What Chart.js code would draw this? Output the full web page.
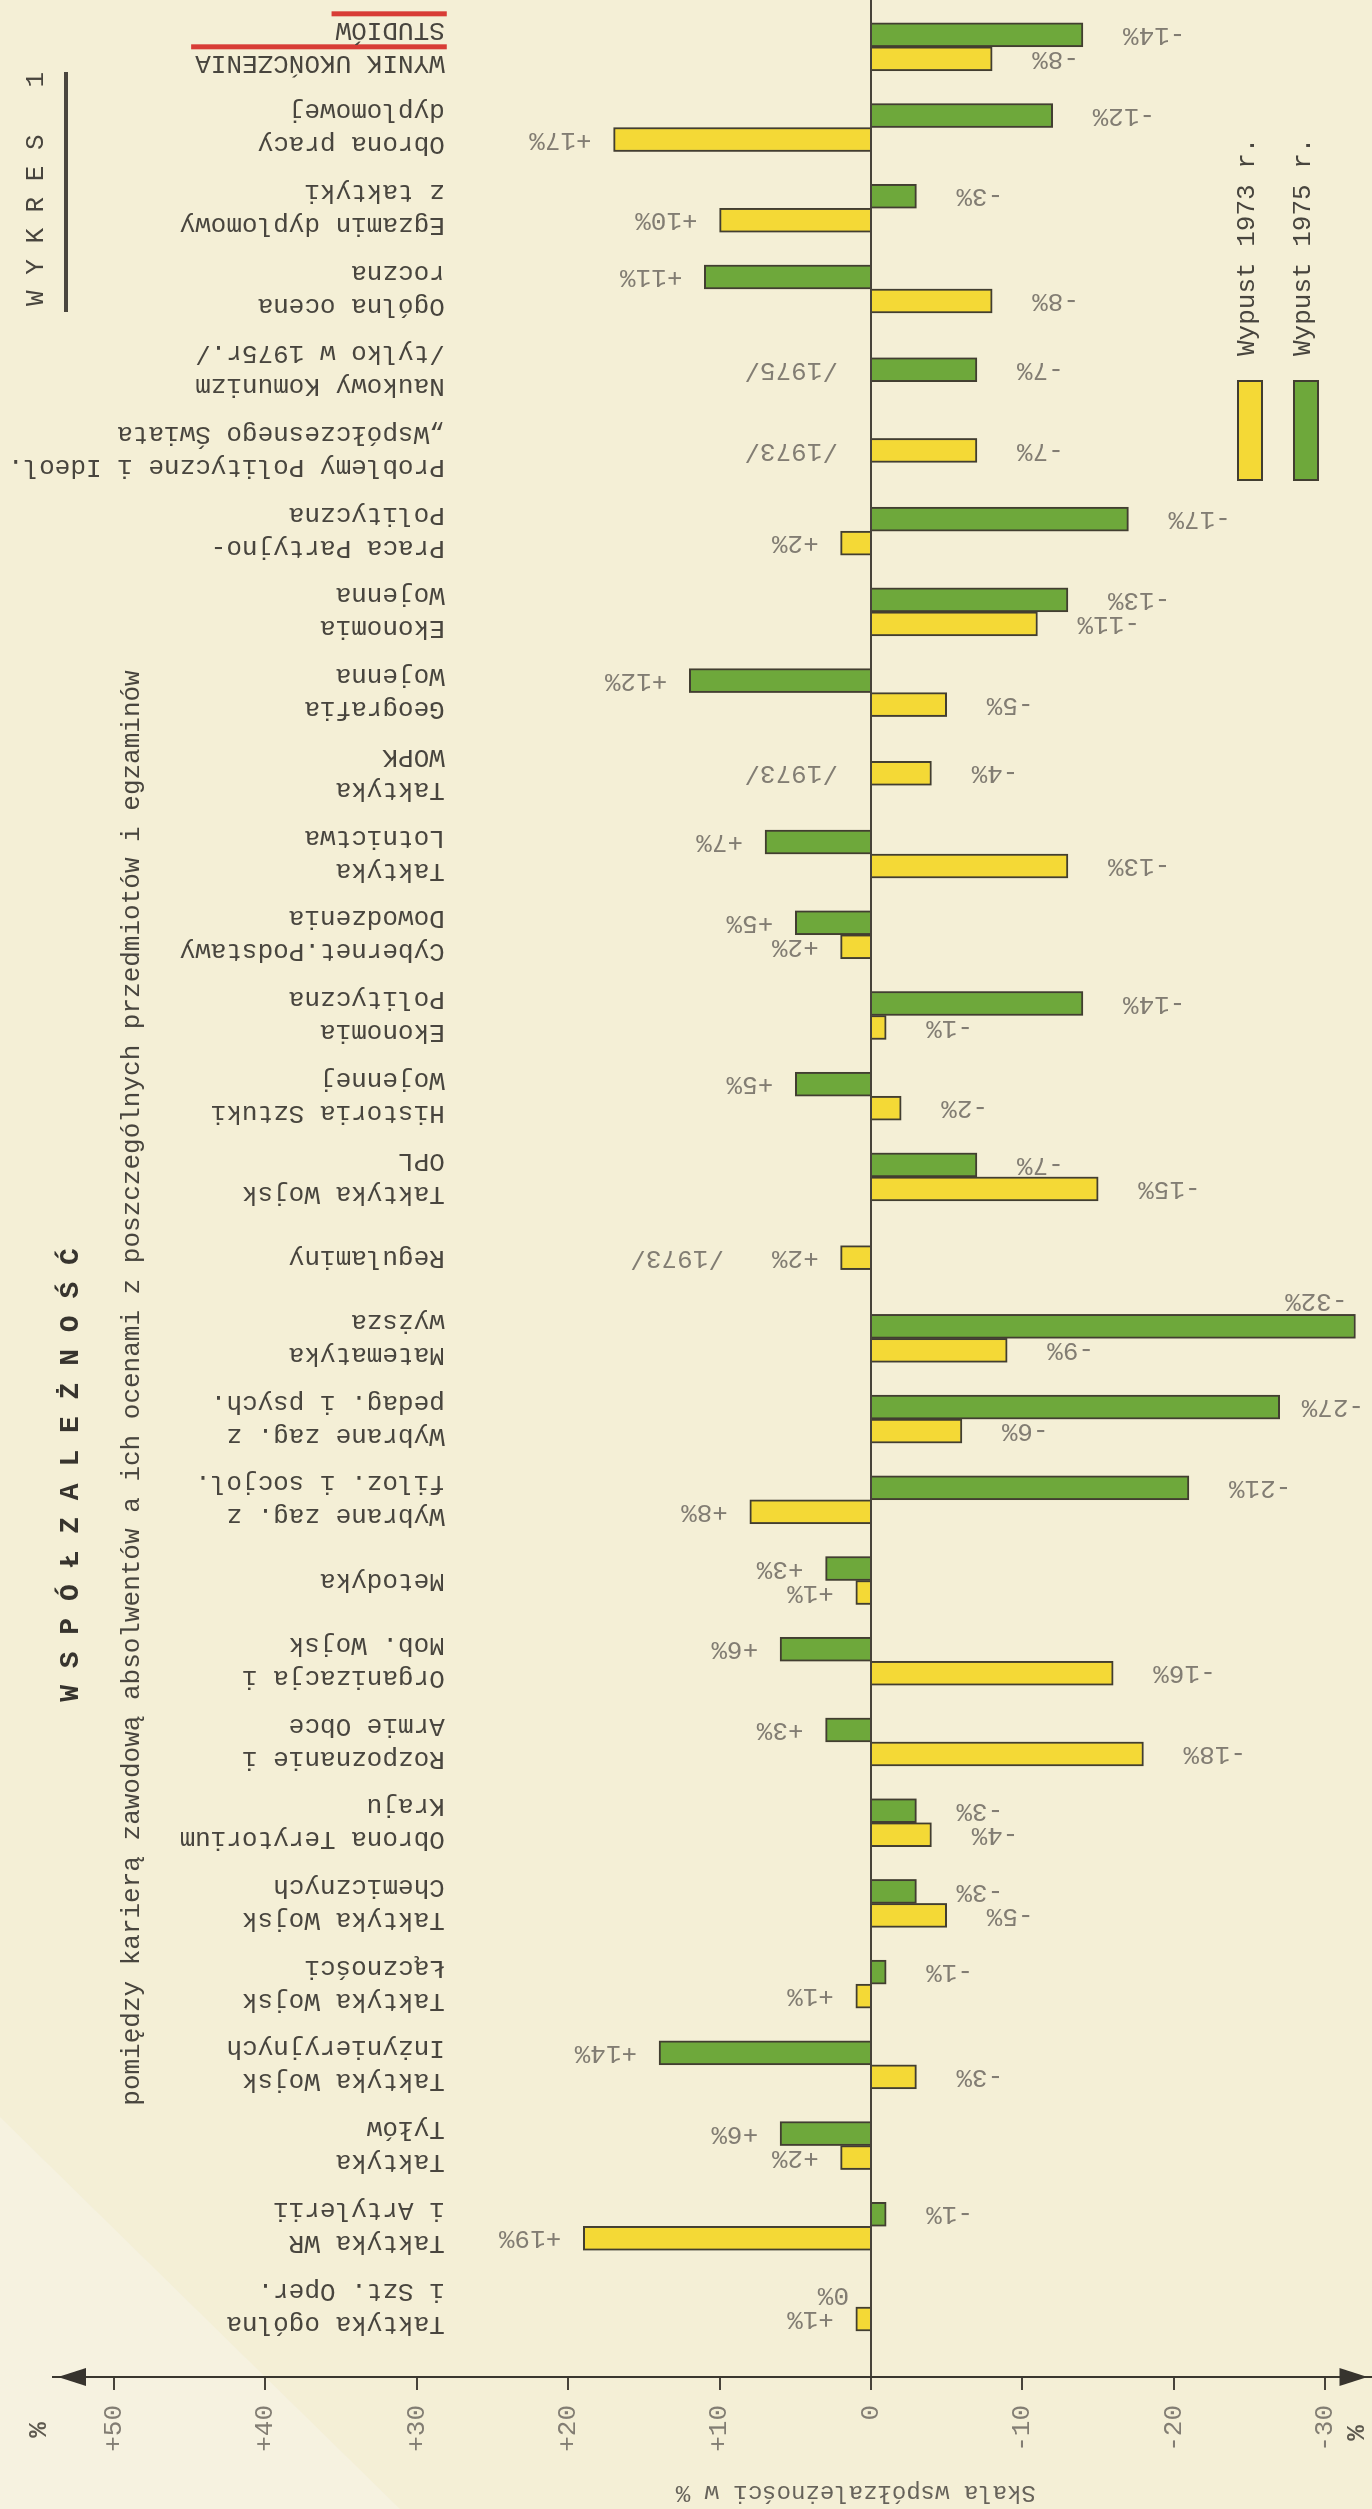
<!DOCTYPE html>
<html lang="pl">
<head>
<meta charset="utf-8">
<title>Wykres 1 – Współzależność</title>
<script src="https://cdn.jsdelivr.net/npm/chart.js@4.4.1/dist/chart.umd.min.js"></script>
<style>
  html, body { margin: 0; padding: 0; background: #f4efd6; width: 1372px; height: 2509px; overflow: hidden; }
  /* the page is a landscape chart turned a quarter turn, as in the original document */
  #wrap { position: absolute; left: 0; top: 0; width: 2509px; height: 1372px;
          transform-origin: 0 0; transform: translateY(2509px) rotate(-90deg); }
  canvas { display: block; }
</style>
</head>
<body>
<div id="wrap"><canvas id="chart" width="2509" height="1372"></canvas></div>
<script>
// ---------------- data ----------------
const categories = [
  ['Taktyka ogólna', 'i Szt. Oper.'],
  ['Taktyka WR', 'i Artylerii'],
  ['Taktyka', 'Tyłów'],
  ['Taktyka Wojsk', 'Inżynieryjnych'],
  ['Taktyka Wojsk', 'Łączności'],
  ['Taktyka Wojsk', 'Chemicznych'],
  ['Obrona Terytorium', 'Kraju'],
  ['Rozpoznanie i', 'Armie Obce'],
  ['Organizacja i', 'Mob. Wojsk'],
  ['Metodyka'],
  ['Wybrane zag. z', 'filoz. i socjol.'],
  ['Wybrane zag. z', 'pedag. i psych.'],
  ['Matematyka', 'wyższa'],
  ['Regulaminy'],
  ['Taktyka Wojsk', 'OPL'],
  ['Historia Sztuki', 'Wojennej'],
  ['Ekonomia', 'Polityczna'],
  ['Cybernet.Podstawy', 'Dowodzenia'],
  ['Taktyka', 'Lotnictwa'],
  ['Taktyka', 'WOPK'],
  ['Geografia', 'Wojenna'],
  ['Ekonomia', 'Wojenna'],
  ['Praca Partyjno-', 'Polityczna'],
  ['Problemy Polityczne i Ideol.', '„Współczesnego Świata'],
  ['Naukowy Komunizm', '/tylko w 1975r./'],
  ['Ogólna ocena', 'roczna'],
  ['Egzamin dyplomowy', 'z taktyki'],
  ['Obrona pracy', 'dyplomowej'],
  ['WYNIK UKOŃCZENIA', 'STUDIÓW']
];
const wypust1973 = [1, 19, 2, -3, 1, -5, -4, -18, -16, 1, 8, -6, -9, 2, -15, -2, -1, 2, -13, -4, -5, -11, 2, -7, null, -8, 10, 17, -8];
const wypust1975 = [0, -1, 6, 14, -1, -3, -3, 3, 6, 3, -21, -27, -32, null, -7, 5, -14, 5, 7, null, 12, -13, -17, null, -7, 11, -3, -12, -14];
const yearNotes  = ['', '', '', '', '', '', '', '', '', '', '', '', '', '/1973/', '', '', '', '', '', '/1973/', '', '', '', '/1973/', '/1975/', '', '', '', ''];
const seriesNames = ['Wypust 1973 r.', 'Wypust 1975 r.'];
const scaleTicks = [-30, -20, -10, 0, 10, 20, 30, 40, 50];
const titleText = 'W S P Ó Ł Z A L E Ż N O Ś Ć';
const subtitleText = 'pomiędzy karierą zawodową absolwentów a ich ocenami z poszczególnych przedmiotów i egzaminów';
const chartNumber = 'W Y K R E S   1';
const axisTitle = 'Skala współzależności w %';

// ---------------- styles ----------------
const FONT = '"Liberation Mono", "DejaVu Sans Mono", monospace';
const PAPER = '#f4efd6';
const PAPER_FOLD = '#f6f2e0';
const YELLOW = '#f4d936';
const GREEN = '#6ea83b';
const EDGE = '#423e31';
const INK = '#48453e';
const INK_LIGHT = '#827d73';
const INK_DARK = '#37342e';
const RED = '#d83c36';

function fmtValue(v) { return v > 0 ? '+' + v + '%' : (v < 0 ? '-' + Math.abs(v) + '%' : '0%'); }
function fmtTick(v) { return v > 0 ? '+' + v : String(v); }

const paper = {
  id: 'paper',
  beforeDraw(chart) {
    const { ctx, width, height } = chart;
    ctx.save();
    ctx.fillStyle = PAPER;
    ctx.fillRect(0, 0, width, height);
    // lighter folded corner of the sheet
    ctx.fillStyle = PAPER_FOLD;
    ctx.beginPath(); ctx.moveTo(0, 0); ctx.lineTo(392, 0); ctx.lineTo(0, 400); ctx.closePath(); ctx.fill();
    ctx.restore();
  }
};

const annotate = {
  id: 'annotate',
  afterDraw(chart) {
    const { ctx, scales: { x, y }, chartArea } = chart;
    const zeroY = y.getPixelForValue(0);
    const labelStart = y.getPixelForValue(28.15);
    ctx.save();
    ctx.textBaseline = 'middle';

    // arrows at both ends of the value axis
    const ax = chartArea.left;
    ctx.fillStyle = INK_DARK;
    const topTip = y.getPixelForValue(53.7), botTip = y.getPixelForValue(-32.8);
    ctx.beginPath(); ctx.moveTo(ax, topTip); ctx.lineTo(ax - 9, topTip + 28); ctx.lineTo(ax + 9, topTip + 28); ctx.closePath(); ctx.fill();
    ctx.beginPath(); ctx.moveTo(ax, botTip); ctx.lineTo(ax - 9, botTip - 28); ctx.lineTo(ax + 9, botTip - 28); ctx.closePath(); ctx.fill();

    // % marks at both ends of the scale
    ctx.font = 'bold 26px ' + FONT;
    ctx.textAlign = 'center';
    ctx.fillStyle = '#5d594f';
    ctx.fillText('%', ax - 53, topTip - 18);
    ctx.fillText('%', ax - 56, botTip - 10);

    // axis title
    ctx.save();
    ctx.font = '24px ' + FONT;
    ctx.fillStyle = '#66625a';
    ctx.translate(17, y.getPixelForValue(1));
    ctx.rotate(-Math.PI / 2);
    ctx.textAlign = 'center';
    ctx.fillText(axisTitle, 0, 0);
    ctx.restore();

    // category labels
    ctx.font = '26px ' + FONT;
    categories.forEach((lines, i) => {
      const cx = x.getPixelForValue(i);
      ctx.save();
      ctx.translate(cx, labelStart);
      ctx.rotate(-Math.PI / 2);
      ctx.textAlign = 'left';
      lines.forEach((ln, k) => {
        const ly = (k - (lines.length - 1) / 2) * 33;
        ctx.fillStyle = INK;
        ctx.fillText(ln, 0, ly);
        if (i === categories.length - 1) {
          const w = ctx.measureText(ln).width;
          ctx.fillStyle = RED;
          ctx.fillRect(-2, ly + 14, w + 6, 5);
        }
      });
      ctx.restore();
    });

    // value labels
    ctx.font = '26px ' + FONT;
    ctx.fillStyle = INK_LIGHT;
    const limit = chart.height - 8;
    [wypust1973, wypust1975].forEach((vals, di) => {
      const meta = chart.getDatasetMeta(di);
      meta.data.forEach((bar, i) => {
        const v = vals[i];
        if (v === null || v === undefined) return;
        const txt = fmtValue(v);
        const w = ctx.measureText(txt).width;
        ctx.save();
        if (v >= 0) {
          ctx.translate(bar.x, bar.y - 22);
          ctx.rotate(-Math.PI / 2);
          ctx.textAlign = 'left';
          ctx.fillText(txt, 0, 0);
          if (yearNotes[i]) ctx.fillText(yearNotes[i], w + 48, 0);
        } else {
          let gap = 40;
          if (bar.y + gap + w > limit) gap = limit - w - bar.y;
          if (gap >= 12) {
            ctx.translate(bar.x, bar.y + gap);
            ctx.rotate(-Math.PI / 2);
            ctx.textAlign = 'right';
          } else {
            // no room past the end of the bar: set the label beside it
            ctx.translate(bar.x + (di === 1 ? 25 : -25), bar.y - 8);
            ctx.rotate(-Math.PI / 2);
            ctx.textAlign = 'left';
          }
          ctx.fillText(txt, 0, 0);
        }
        ctx.restore();
        if (v < 0 && yearNotes[i]) {
          ctx.save();
          ctx.translate(bar.x, zeroY - 33);
          ctx.rotate(-Math.PI / 2);
          ctx.textAlign = 'left';
          ctx.fillText(yearNotes[i], 0, 0);
          ctx.restore();
        }
      });
    });

    // title and subtitle
    ctx.textAlign = 'center';
    ctx.fillStyle = INK_DARK;
    ctx.font = 'bold 28px ' + FONT;
    ctx.fillText(titleText, 1034, 71);
    ctx.fillStyle = INK;
    ctx.font = '26px ' + FONT;
    ctx.fillText(subtitleText, 1121, 132);

    // chart number with its rule
    ctx.textAlign = 'left';
    ctx.fillStyle = INK;
    ctx.fillText(chartNumber, 2203, 36);
    ctx.fillStyle = '#4a463e';
    ctx.fillRect(2197, 64, 240, 4);

    // legend
    const legendColors = [YELLOW, GREEN];
    const legendY = [1250, 1306];
    legendColors.forEach((col, k) => {
      ctx.fillStyle = col;
      ctx.fillRect(2029, legendY[k] - 12, 99, 24);
      ctx.strokeStyle = EDGE;
      ctx.lineWidth = 2;
      ctx.strokeRect(2029, legendY[k] - 12, 99, 24);
      ctx.fillStyle = INK;
      ctx.font = '26px ' + FONT;
      ctx.fillText(seriesNames[k], 2153, legendY[k] - 3);
    });
    ctx.restore();
  }
};

const ctx = document.getElementById('chart').getContext('2d');
new Chart(ctx, {
  type: 'bar',
  data: {
    labels: categories,
    datasets: [
      { label: seriesNames[0], data: categories.map((c, i) => ({ x: i, y: wypust1973[i] })),
        backgroundColor: YELLOW, borderColor: EDGE, borderWidth: 2 },
      { label: seriesNames[1], data: categories.map((c, i) => ({ x: i, y: wypust1975[i] })),
        backgroundColor: GREEN, borderColor: EDGE, borderWidth: 2 }
    ]
  },
  options: {
    responsive: false,
    animation: false,
    devicePixelRatio: 1,
    layout: { padding: { top: 53.4, bottom: 1.4, left: 0, right: 0 } },
    datasets: { bar: { barThickness: 24, skipNull: true, grouped: true } },
    plugins: { legend: { display: false }, tooltip: { enabled: false }, title: { display: false } },
    scales: {
      x: { type: 'linear', min: -0.867, max: 28.58, offset: false, display: false,
           grid: { offset: false } },
      y: {
        type: 'linear', position: 'left', min: -33, max: 54,
        afterBuildTicks: s => { s.ticks = scaleTicks.map(v => ({ value: v })); },
        afterFit: s => { s.width = 132; s.paddingTop = 0; s.paddingBottom = 0; },
        ticks: { callback: v => fmtTick(v), font: { family: FONT, size: 26 }, color: INK_LIGHT, padding: 15 },
        grid: {
          color: c => (c.tick && c.tick.value === 0) ? '#47433a' : 'rgba(0,0,0,0)',
          lineWidth: 2, tickLength: 13, tickColor: '#47433a', tickWidth: 2
        },
        border: { display: true, color: '#3a372f', width: 2 }
      }
    }
  },
  plugins: [paper, annotate]
});
</script>
</body>
</html>
